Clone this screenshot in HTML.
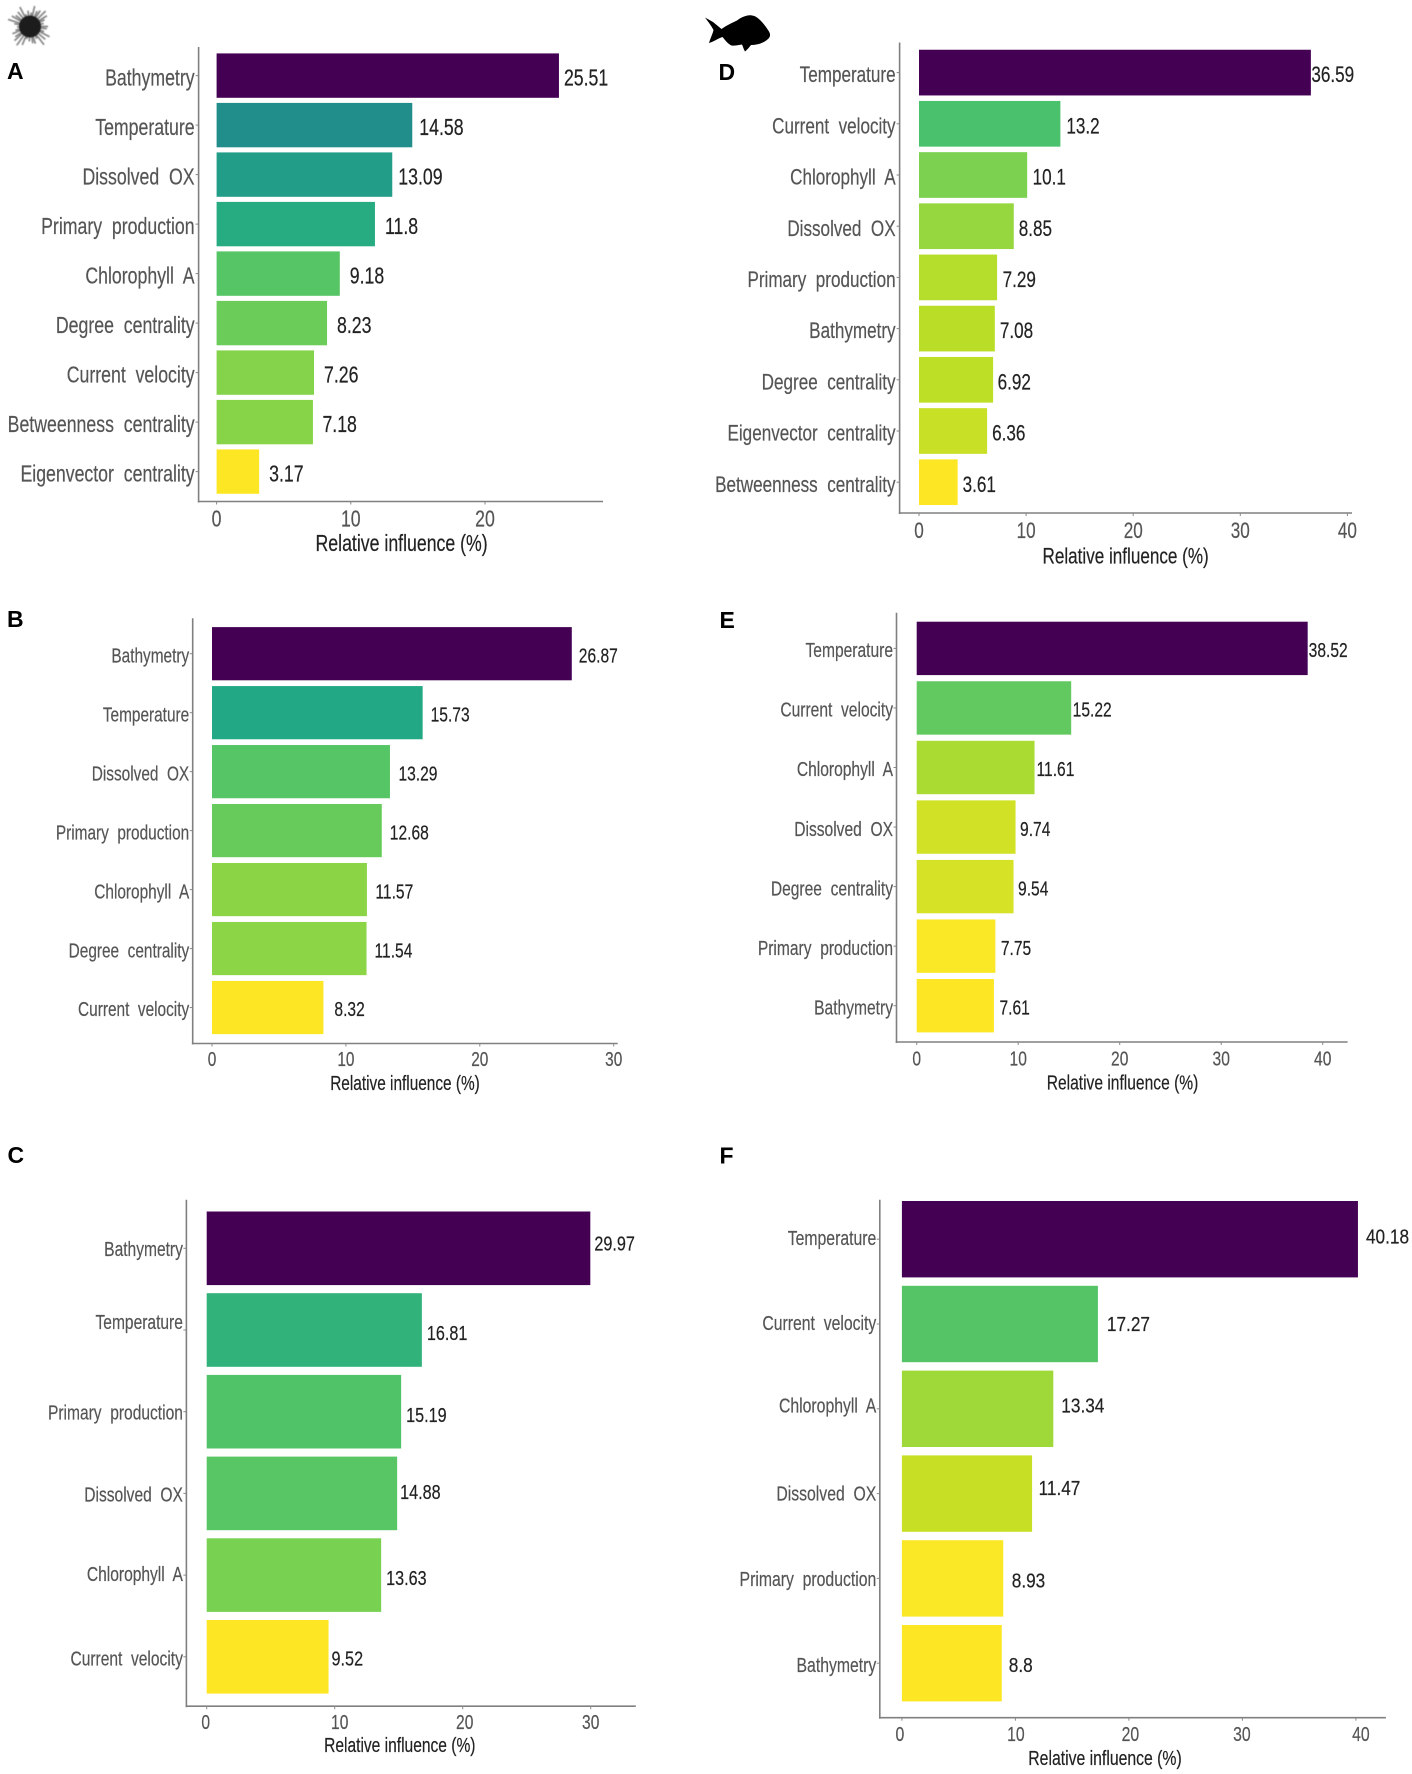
<!DOCTYPE html>
<html lang="en">
<head>
<meta charset="utf-8">
<title>Relative influence of predictors, panels A to F</title>
<style>
  html, body { margin: 0; padding: 0; background: #fff; }
  svg { display: block; }
  text { font-family: "Liberation Sans", Arial, sans-serif; white-space: pre; }
  #panels { filter: blur(0.35px); }
  #urchin { filter: blur(0.6px); }
</style>
</head>
<body>
<svg id="figure" xmlns="http://www.w3.org/2000/svg" width="1412" height="1774" viewBox="0 0 1412 1774">
  <rect x="0" y="0" width="1412" height="1774" fill="#ffffff"/>
  <g id="urchin"></g>
  <path fill="#000" d="M705 17.5 L713 22 L721.5 29 C727 25 733 22.5 737 20.5 C741 17.5 747 14.5 752 15.5 C758 16 764 24 768 30 C771 34 770.5 37 768 39 C763 43.5 757 45 751 45 C749.5 47 747 50 745 51.5 C743.5 49 743 46.5 742 44.5 C738 45 735 46 731.5 45.5 C728 44 725.5 40.5 722.5 37 C718 38.5 713 42 709 43 C710.5 38 713 33 713.5 30 C711.5 26 708 21.5 705 17.5 Z"/>
  <g id="panels"></g>
</svg>
<script>
const panelACategories = ["Bathymetry", "Temperature", "Dissolved  OX", "Primary  production", "Chlorophyll  A", "Degree  centrality", "Current  velocity", "Betweenness  centrality", "Eigenvector  centrality"];
const panelAValues = [25.51, 14.58, 13.09, 11.8, 9.18, 8.23, 7.26, 7.18, 3.17];
const panelATicks = [0, 10, 20];

const panelBCategories = ["Bathymetry", "Temperature", "Dissolved  OX", "Primary  production", "Chlorophyll  A", "Degree  centrality", "Current  velocity"];
const panelBValues = [26.87, 15.73, 13.29, 12.68, 11.57, 11.54, 8.32];
const panelBTicks = [0, 10, 20, 30];

const panelCCategories = ["Bathymetry", "Temperature", "Primary  production", "Dissolved  OX", "Chlorophyll  A", "Current  velocity"];
const panelCValues = [29.97, 16.81, 15.19, 14.88, 13.63, 9.52];
const panelCTicks = [0, 10, 20, 30];

const panelDCategories = ["Temperature", "Current  velocity", "Chlorophyll  A", "Dissolved  OX", "Primary  production", "Bathymetry", "Degree  centrality", "Eigenvector  centrality", "Betweenness  centrality"];
const panelDValues = [36.59, 13.2, 10.1, 8.85, 7.29, 7.08, 6.92, 6.36, 3.61];
const panelDTicks = [0, 10, 20, 30, 40];

const panelECategories = ["Temperature", "Current  velocity", "Chlorophyll  A", "Dissolved  OX", "Degree  centrality", "Primary  production", "Bathymetry"];
const panelEValues = [38.52, 15.22, 11.61, 9.74, 9.54, 7.75, 7.61];
const panelETicks = [0, 10, 20, 30, 40];

const panelFCategories = ["Temperature", "Current  velocity", "Chlorophyll  A", "Dissolved  OX", "Primary  production", "Bathymetry"];
const panelFValues = [40.18, 17.27, 13.34, 11.47, 8.93, 8.8];
const panelFTicks = [0, 10, 20, 30, 40];

const axisTitleText = "Relative influence (%)";
const viridisStops = ["#440154", "#482475", "#414487", "#355f8d", "#2a788e", "#21918c", "#22a884", "#44bf70", "#7ad151", "#bddf26", "#fde725"];

const panels = [
  { id: "a", letter: "A", categories: panelACategories, values: panelAValues, ticks: panelATicks,
    layout: { axisX: 198.6, axisTop: 47, axisBottom: 501.5, axisRight: 603, x0: 216.6, pxPerUnit: 13.42,
      firstCenter: 75.6, step: 49.5, barH: 44.4, font: 23, sx: 0.77, valueSx: 0.77, textDy: 0, tickY: 526.5, titleX: 401.6, titleY: 551,
      letterX: 7, letterY: 79, labelGap: 4, nudgeValueX: [5, 7, 6, 10, 10, 10, 10, 9.5, 10] } },
  { id: "b", letter: "B", categories: panelBCategories, values: panelBValues, ticks: panelBTicks,
    layout: { axisX: 192.7, axisTop: 618.2, axisBottom: 1043.5, axisRight: 617.7, x0: 212, pxPerUnit: 13.39,
      firstCenter: 653.7, step: 58.97, barH: 53.2, font: 20, sx: 0.77, valueSx: 0.78, textDy: 0, tickY: 1066, titleX: 405, titleY: 1090,
      letterX: 7, letterY: 627, labelGap: 3.5, nudgeValueX: [7, 8, 8.5, 8, 8.5, 8, 11] } },
  { id: "c", letter: "C", categories: panelCCategories, values: panelCValues, ticks: panelCTicks,
    layout: { axisX: 186.4, axisTop: 1199.8, axisBottom: 1706.2, axisRight: 635.8, x0: 206.7, pxPerUnit: 12.8,
      firstCenter: 1248.3, step: 81.7, barH: 73.6, font: 20.5, sx: 0.76, valueSx: 0.79, textDy: -2, tickY: 1729, titleX: 399.8, titleY: 1752,
      letterX: 7.5, letterY: 1163, labelGap: 3.5, nudgeValueX: [4, 5, 5, 3, 5, 3],
      nudgeValueY: [-4.5, 3, 3.3, -1.5, 3, 2], nudgeLabelY: [1, -8, 1, 1, -1, 2], nudgeTickX: [-1, 5, 2, 0] } },
  { id: "d", letter: "D", categories: panelDCategories, values: panelDValues, ticks: panelDTicks,
    layout: { axisX: 899.6, axisTop: 42.5, axisBottom: 513, axisRight: 1352, x0: 919, pxPerUnit: 10.71,
      firstCenter: 72.6, step: 51.2, barH: 45.7, font: 22.5, sx: 0.76, valueSx: 0.76, textDy: 0, tickY: 538, titleX: 1125.6, titleY: 563.5,
      letterX: 718.5, letterY: 80, labelGap: 4, nudgeValueX: [0.5, 6, 5.5, 5, 5.5, 5, 4.5, 5, 5] } },
  { id: "e", letter: "E", categories: panelECategories, values: panelEValues, ticks: panelETicks,
    layout: { axisX: 896.5, axisTop: 612.7, axisBottom: 1042, axisRight: 1347.6, x0: 916.7, pxPerUnit: 10.15,
      firstCenter: 648.4, step: 59.55, barH: 53.4, font: 20, sx: 0.78, valueSx: 0.78, textDy: 0, tickY: 1065.5, titleX: 1122.5, titleY: 1089.5,
      letterX: 719.5, letterY: 628, labelGap: 3.5, nudgeValueX: [1, 1.5, 2, 4.5, 4.5, 5.5, 5.5] } },
  { id: "f", letter: "F", categories: panelFCategories, values: panelFValues, ticks: panelFTicks,
    layout: { axisX: 879.8, axisTop: 1199.8, axisBottom: 1717.7, axisRight: 1385.9, x0: 901.9, pxPerUnit: 11.35,
      firstCenter: 1239.2, step: 84.8, barH: 76.4, font: 20.5, sx: 0.77, valueSx: 0.84, textDy: -2, tickY: 1741, titleX: 1105, titleY: 1765,
      letterX: 719.5, letterY: 1163.5, labelGap: 3.5, nudgeValueX: [8, 9, 8, 6.5, 8.5, 7],
      nudgeValueY: [-2.4, 0, -3, -5.6, 2, 1.7], nudgeLabelY: [-1, -1, -3, 0, 0.5, 2], nudgeTickX: [-2, 0.5, 1.5, -0.5, 5] } }
];

const SVG_NS = "http://www.w3.org/2000/svg";

function make(parent, tag, attrs) {
  const el = document.createElementNS(SVG_NS, tag);
  for (const k in attrs) el.setAttribute(k, attrs[k]);
  parent.appendChild(el);
  return el;
}

function slug(s) {
  return String(s).toLowerCase().replace(/[^a-z0-9]+/g, "-");
}

function hexToRgb(h) {
  return [parseInt(h.slice(1, 3), 16), parseInt(h.slice(3, 5), 16), parseInt(h.slice(5, 7), 16)];
}

function viridis(t) {
  const c = Math.max(0, Math.min(1, t)) * (viridisStops.length - 1);
  const i = Math.min(Math.floor(c), viridisStops.length - 2);
  const f = c - i;
  const a = hexToRgb(viridisStops[i]);
  const b = hexToRgb(viridisStops[i + 1]);
  return "rgb(" + a.map((v, n) => Math.round(v + (b[n] - v) * f)).join(",") + ")";
}

function squeezedText(parent, x, y, sx, size, anchor, fill, str) {
  const el = make(parent, "text", {
    transform: "translate(" + x + " " + y + ") scale(" + sx + " 1)",
    "text-anchor": anchor,
    "font-size": size,
    fill: fill,
    stroke: fill,
    "stroke-width": 0.2
  });
  el.setAttributeNS("http://www.w3.org/XML/1998/namespace", "xml:space", "preserve");
  el.textContent = str;
  return el;
}

function drawPanel(root, p) {
  const L = p.layout;
  const xScale = v => L.x0 + v * L.pxPerUnit;
  const yScale = i => L.firstCenter + i * L.step;
  const maxV = Math.max.apply(null, p.values);
  const minV = Math.min.apply(null, p.values);
  const colorOf = v => viridis(maxV === minV ? 0 : (maxV - v) / (maxV - minV));

  const g = make(root, "g", {});
  
  

  const letter = make(g, "text", { x: L.letterX, y: L.letterY, "font-size": 23, "font-weight": "bold", fill: "#000" });
  
  
  letter.textContent = p.letter;

  p.values.forEach((v, i) => {
    const cy = yScale(i);
    const bar = make(g, "rect", {
      x: xScale(0), y: cy - L.barH / 2, width: Math.max(0, xScale(v) - xScale(0)), height: L.barH, fill: colorOf(v)
    });
    
    

    const nudgeLabel = L.nudgeLabelY ? L.nudgeLabelY[i] : 0;
    const cat = squeezedText(g, L.axisX - L.labelGap, cy + nudgeLabel + L.textDy + L.font * 0.36 + 1.5, L.sx, L.font, "end", "#555555", p.categories[i]);
    
    

    const tick = make(g, "line", { x1: L.axisX - 3, x2: L.axisX, y1: cy, y2: cy, stroke: "#888", "stroke-width": 1 });
    
    

    const nudgeX = L.nudgeValueX ? L.nudgeValueX[i] : 6;
    const nudgeY = L.nudgeValueY ? L.nudgeValueY[i] : 0;
    const val = squeezedText(g, xScale(v) + nudgeX, cy + nudgeY + L.textDy + L.font * 0.36 + 1.5, L.valueSx, L.font, "start", "#222222", String(v));
    
    
  });

  const yAxis = make(g, "line", { x1: L.axisX, x2: L.axisX, y1: L.axisTop, y2: L.axisBottom + 1, stroke: "#808080", "stroke-width": 1.6 });
  
  

  const xAxis = make(g, "line", { x1: L.axisX - 0.8, x2: L.axisRight, y1: L.axisBottom, y2: L.axisBottom, stroke: "#808080", "stroke-width": 1.6 });
  
  

  p.ticks.forEach((t, i) => {
    const tx = xScale(t);
    const nudge = L.nudgeTickX ? L.nudgeTickX[i] : 0;
    const mark = make(g, "line", { x1: tx, x2: tx, y1: L.axisBottom, y2: L.axisBottom + 3, stroke: "#888", "stroke-width": 1 });
    
    
    const lab = squeezedText(g, tx + nudge, L.tickY, L.sx, L.font, "middle", "#555555", String(t));
    
    
  });

  const title = squeezedText(g, L.titleX, L.titleY, L.sx, L.font, "middle", "#222222", axisTitleText);
  
  
}

function drawUrchin(root) {
  const cx = 30, cy = 26.5;
  const lengths = [18, 21, 14, 23, 16, 20, 13, 22, 15, 19, 17];
  for (let i = 0; i < 34; i++) {
    const a = (i * 2.4) % (Math.PI * 2);
    const r = lengths[i % lengths.length];
    const s = make(root, "line", {
      x1: cx, y1: cy, x2: cx + Math.cos(a) * r, y2: cy + Math.sin(a) * r,
      stroke: "#222", "stroke-width": 1.7, "stroke-opacity": 0.55
    });
    
    
  }
  const body = make(root, "circle", { cx: cx, cy: cy, r: 11, fill: "#1c1c1c" });
  
  
}

const panelsRoot = document.getElementById("panels");
panels.forEach(p => drawPanel(panelsRoot, p));
drawUrchin(document.getElementById("urchin"));
</script>
</body>
</html>
